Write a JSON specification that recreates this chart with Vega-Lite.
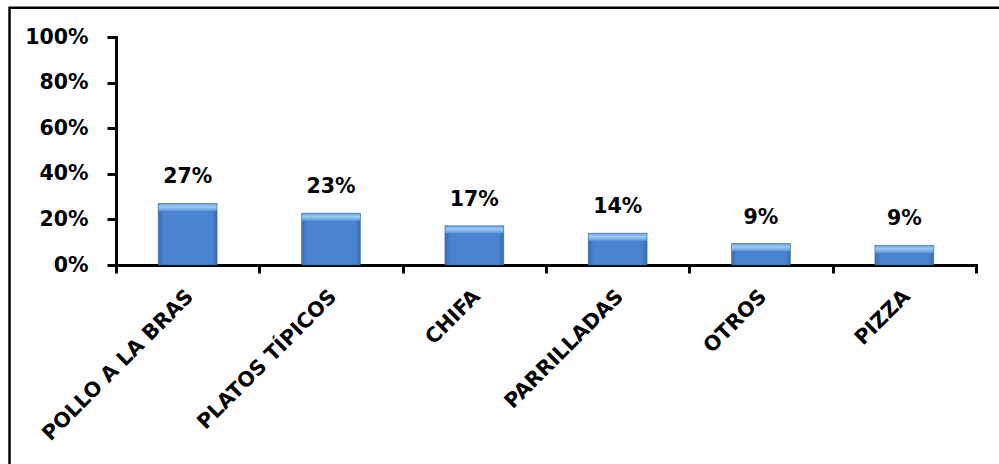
{
  "$schema": "https://vega.github.io/schema/vega-lite/v6.json",
  "width": 860,
  "height": 228,
  "autosize": {"type": "none"},
  "padding": {"left": 116, "top": 37, "right": 23, "bottom": 199},
  "background": "white",
  "config": {"view": {"stroke": null}, "font": "DejaVu Sans"},
  "layer": [
    {
      "data": {"values": [{"frame": "chart area"}]},
      "mark": {"type": "rect", "fill": null, "stroke": "black", "strokeWidth": 2.5},
      "encoding": {
        "x": {"datum": -0.1238, "type": "quantitative", "scale": {"domain": [0, 1], "nice": false, "zero": false}, "axis": null},
        "x2": {"datum": 1.04},
        "y": {"datum": 1.1285, "type": "quantitative", "scale": {"domain": [0, 1], "nice": false, "zero": false}, "axis": null},
        "y2": {"datum": -0.9}
      }
    },
    {
      "data": {
        "values": [
          {"tipo": "POLLO A LA BRAS", "pct": 0.27},
          {"tipo": "PLATOS TÍPICOS", "pct": 0.227},
          {"tipo": "CHIFA", "pct": 0.172},
          {"tipo": "PARRILLADAS", "pct": 0.139},
          {"tipo": "OTROS", "pct": 0.094},
          {"tipo": "PIZZA", "pct": 0.086}
        ]
      },
      "encoding": {
        "x": {
          "field": "tipo",
          "type": "nominal",
          "sort": null,
          "scale": {"paddingInner": 0, "paddingOuter": 0},
          "axis": {
            "title": null,
            "domainColor": "black",
            "domainWidth": 3,
            "domainCap": "square",
            "tickColor": "black",
            "tickWidth": 3,
            "tickSize": 8,
            "tickBand": "extent",
            "labelAngle": -45,
            "labelFont": "DejaVu Sans",
            "labelFontWeight": "bold",
            "labelFontSize": 20.5,
            "labelColor": "black",
            "labelPadding": 13,
            "labelOffset": -5,
            "labelOverlap": false,
            "labelLimit": 400
          }
        },
        "y": {
          "field": "pct",
          "type": "quantitative",
          "scale": {"domain": [0, 1], "nice": false},
          "axis": {
            "title": null,
            "values": [0, 0.2, 0.4, 0.6, 0.8, 1],
            "format": ".0%",
            "grid": false,
            "domainColor": "black",
            "domainWidth": 3,
            "domainCap": "square",
            "tickColor": "black",
            "tickWidth": 3,
            "tickSize": 9,
            "labelFont": "DejaVu Sans",
            "labelFontWeight": "bold",
            "labelFontSize": 20.5,
            "labelColor": "black",
            "labelPadding": 19
          }
        }
      },
      "layer": [
        {
          "mark": {
            "type": "bar",
            "width": {"band": 0.41},
            "stroke": "#33639f",
            "strokeWidth": 0.6,
            "color": {
              "gradient": "linear",
              "x1": 0, "y1": 0, "x2": 1, "y2": 0,
              "stops": [
                {"offset": 0, "color": "#3a6cb0"},
                {"offset": 0.09, "color": "#4a83cf"},
                {"offset": 0.91, "color": "#4a83cf"},
                {"offset": 1, "color": "#3a6cb0"}
              ]
            }
          }
        },
        {
          "mark": {
            "type": "tick",
            "orient": "horizontal",
            "size": 58,
            "thickness": 7,
            "yOffset": 4,
            "color": {
              "gradient": "linear",
              "x1": 0, "y1": 0, "x2": 0, "y2": 1,
              "stops": [
                {"offset": 0, "color": "#6fa6e6"},
                {"offset": 0.4, "color": "#9ccbf5"},
                {"offset": 1, "color": "#5e97dc"}
              ]
            },
            "opacity": 1
          }
        },
        {
          "mark": {
            "type": "text",
            "baseline": "alphabetic",
            "dy": -20,
            "font": "DejaVu Sans",
            "fontWeight": "bold",
            "fontSize": 20.5,
            "color": "black"
          },
          "encoding": {
            "text": {"field": "pct", "type": "quantitative", "format": ".0%"}
          }
        }
      ]
    }
  ],
  "resolve": {"scale": {"x": "independent", "y": "independent"}}
}
